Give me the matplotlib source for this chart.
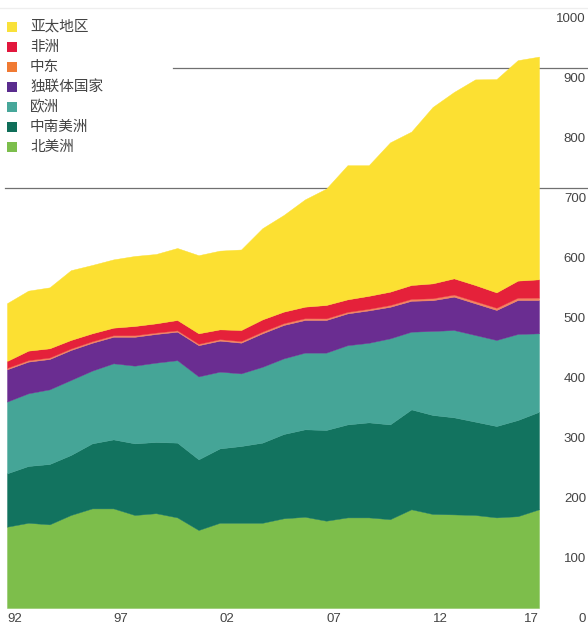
import matplotlib
matplotlib.use("Agg")
import matplotlib.pyplot as plt
from matplotlib.patches import Rectangle
from matplotlib.transforms import blended_transform_factory, offset_copy

# ---- data ----
years = list(range(1992, 2018))
north_america = [135.5, 142.0, 139.4, 155.0, 166.0, 166.0, 155.0, 158.0, 151.0, 130.0,
                 142.0, 142.0, 142.0, 149.5, 152.0, 145.5, 151.0, 151.0, 148.0, 164.5,
                 156.7, 156.0, 155.0, 151.0, 153.0, 164.5]
south_central_america = [88.9, 94.7, 100.6, 100.0, 108.4, 115.0, 119.4, 118.7, 124.6, 117.8,
                         124.0, 128.0, 133.6, 140.5, 145.8, 151.2, 155.0, 158.4, 158.0, 166.5,
                         165.0, 161.8, 155.6, 152.3, 160.3, 162.5]
europe = [119.6, 121.1, 124.4, 125.0, 121.2, 126.8, 129.5, 132.2, 137.4, 138.2,
          127.9, 121.0, 126.4, 126.0, 127.8, 128.9, 132.0, 132.6, 143.4, 129.5,
          140.0, 145.5, 144.4, 143.4, 143.4, 130.8]
cis = [53.8, 52.8, 50.6, 50.0, 46.4, 44.2, 48.1, 47.8, 47.5, 52.0,
       51.7, 51.2, 55.8, 55.7, 54.4, 54.4, 53.0, 54.0, 52.6, 51.5,
       51.3, 55.6, 52.8, 50.0, 56.6, 55.5]
middle_east = [2.4, 2.5, 2.5, 2.5, 2.6, 2.6, 2.6, 2.4, 2.3, 2.4,
               2.5, 2.7, 2.9, 3.0, 3.0, 2.8, 2.6, 2.7, 3.0, 3.2,
               3.3, 3.5, 3.6, 3.7, 3.9, 4.0]
africa = [11.5, 15.8, 15.3, 14.2, 13.2, 12.6, 15.4, 15.3, 17.2, 17.4,
          16.3, 18.4, 20.3, 19.2, 19.2, 22.2, 20.8, 21.6, 22.2, 23.1,
          24.7, 27.0, 26.9, 25.6, 28.4, 30.5]
asia_pacific = [96.3, 100.0, 101.6, 116.3, 113.9, 113.8, 116.7, 115.6, 120.0, 130.2,
                131.2, 134.2, 152.0, 161.1, 178.8, 194.0, 223.6, 217.7, 248.8, 255.7,
                294.0, 310.6, 342.7, 355.5, 367.4, 371.2]

legend_names = ["亚太地区", "非洲", "中东", "独联体国家", "欧洲", "中南美洲", "北美洲"]
y_ticks = [0, 100, 200, 300, 400, 500, 600, 700, 800, 900, 1000]
x_tick_years = [1992, 1997, 2002, 2007, 2012, 2017]
x_tick_labels = ["92", "97", "02", "07", "12", "17"]
ref_lines = [700, 900]

# ---- style ----
area_colors = ["#7DBE4B", "#12735F", "#45A597", "#6A2D91", "#F4845F", "#E5213A", "#FCE032"]
legend_colors = ["#F9E13A", "#E2173D", "#F07A33", "#5A2C8E", "#47A79A", "#0F6E59", "#7CBE4C"]
text_color = "#444444"

W, H = 588, 626
fig = plt.figure(figsize=(W / 100, H / 100), dpi=100)
fig.patch.set_facecolor("white")
ax = fig.add_axes([7 / W, 18 / H, 532 / W, 600 / H])
ax.set_xlim(1992, 2017)
ax.set_ylim(0, 1000)
ax.axis("off")

trans = blended_transform_factory(fig.transFigure, ax.transData)

# reference lines (behind areas, extend across figure)
ax.plot([5 / W, 1.0], [700, 700], transform=trans, clip_on=False, zorder=0,
        color="#707070", lw=0.9)
ax.plot([173 / W, 1.0], [900, 900], transform=trans, clip_on=False, zorder=0,
        color="#707070", lw=0.9)
ax.plot([0, 1.0], [1000, 1000], transform=trans, clip_on=False, zorder=0,
        color="#eeeeee", lw=0.9)

series = [north_america, south_central_america, europe, cis, middle_east, africa, asia_pacific]
polys = ax.stackplot(years, *series, colors=area_colors, zorder=1)
for p, c in zip(polys, area_colors):
    p.set_edgecolor(c)
    p.set_linewidth(0.3)

# y tick labels on the right
ytrans = offset_copy(trans, fig=fig, y=-5, units="dots")
for v in y_ticks:
    ax.text(586 / W, v, str(v), transform=ytrans, ha="right", va="top",
            fontsize=9.5, color=text_color, family=["Liberation Sans", "DejaVu Sans"])

# x tick labels
xtrans = offset_copy(ax.transData, fig=fig, y=-5, units="dots")
for i, (yr, lab) in enumerate(zip(x_tick_years, x_tick_labels)):
    ha = "right" if i == len(x_tick_years) - 1 else "left"
    ax.text(yr, 0, lab, transform=xtrans, ha=ha, va="top",
            fontsize=9.5, color=text_color, family=["Liberation Sans", "DejaVu Sans"])

# legend (manual)
for i, (name, col) in enumerate(zip(legend_names, legend_colors)):
    yc = 27 + 20 * i
    fig.patches.append(Rectangle((7 / W, 1 - (yc + 5) / H), 10 / W, 10 / H,
                                 transform=fig.transFigure, facecolor=col,
                                 edgecolor="none"))
    fig.text(30 / W, 1 - yc / H, name, ha="left", va="center", fontsize=10.5,
             color=text_color, family=["Noto Sans CJK SC", "DejaVu Sans"])

fig.savefig("out.png", dpi=100)
